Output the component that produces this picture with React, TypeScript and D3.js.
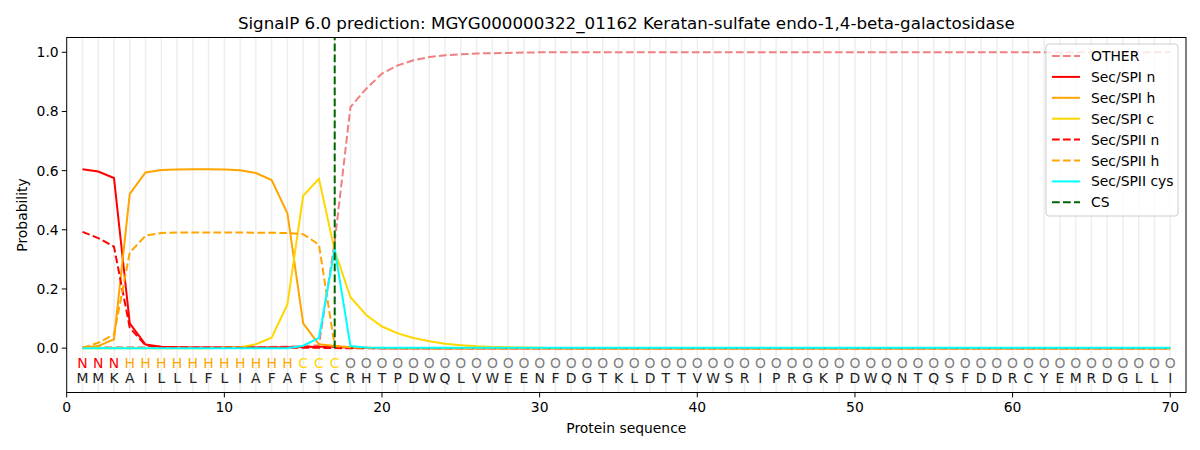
import * as d3 from "d3";

const title =
  "SignalP 6.0 prediction: MGYG000000322_01162 Keratan-sulfate endo-1,4-beta-galactosidase";

const sequence = "MMKAILLLFLIAFAFSCRHTPDWQLVWEENFDGTKLDTTVWSRIPRGKPDWQNTQSFDDRCYEMRDGLLI".split("");
const regions = "NNNHHHHHHHHHHHCCCOOOOOOOOOOOOOOOOOOOOOOOOOOOOOOOOOOOOOOOOOOOOOOOOOOOOO".split("");

const other = [
  0.003, 0.003, 0.003, 0.003, 0.003, 0.003, 0.003, 0.003, 0.003, 0.003,
  0.003, 0.004, 0.004, 0.005, 0.007, 0.01, 0.36, 0.815, 0.877, 0.928,
  0.956, 0.973, 0.984, 0.99, 0.993, 0.996, 0.997, 0.998, 0.999, 1,
  1, 1, 1, 1, 1, 1, 1, 1, 1, 1,
  1, 1, 1, 1, 1, 1, 1, 1, 1, 1,
  1, 1, 1, 1, 1, 1, 1, 1, 1, 1,
  1, 1, 1, 1, 1, 1, 1, 1, 1, 1,
];
const spiN = [
  0.605, 0.597, 0.575, 0.084, 0.012, 0.005, 0.003, 0.002, 0.002, 0.002,
  0.002, 0.002, 0.002, 0.003, 0.004, 0.005, 0.005, 0.001, 0, 0,
  0, 0, 0, 0, 0, 0, 0, 0, 0, 0,
  0, 0, 0, 0, 0, 0, 0, 0, 0, 0,
  0, 0, 0, 0, 0, 0, 0, 0, 0, 0,
  0, 0, 0, 0, 0, 0, 0, 0, 0, 0,
  0, 0, 0, 0, 0, 0, 0, 0, 0, 0,
];
const spiH = [
  0.001, 0.007, 0.03, 0.521, 0.594, 0.602, 0.604, 0.605, 0.605, 0.604,
  0.601, 0.592, 0.568, 0.456, 0.084, 0.013, 0.007, 0.003, 0.001, 0,
  0, 0, 0, 0, 0, 0, 0, 0, 0, 0,
  0, 0, 0, 0, 0, 0, 0, 0, 0, 0,
  0, 0, 0, 0, 0, 0, 0, 0, 0, 0,
  0, 0, 0, 0, 0, 0, 0, 0, 0, 0,
  0, 0, 0, 0, 0, 0, 0, 0, 0, 0,
];
const spiC = [
  0, 0, 0, 0, 0, 0, 0, 0, 0, 0.001,
  0.003, 0.013, 0.035, 0.148, 0.515, 0.572, 0.33, 0.172, 0.112, 0.073,
  0.05, 0.034, 0.023, 0.015, 0.01, 0.006, 0.004, 0.003, 0.002, 0.001,
  0, 0, 0, 0, 0, 0, 0, 0, 0, 0,
  0, 0, 0, 0, 0, 0, 0, 0, 0, 0,
  0, 0, 0, 0, 0, 0, 0, 0, 0, 0,
  0, 0, 0, 0, 0, 0, 0, 0, 0, 0,
];
const spiiN = [
  0.393, 0.372, 0.343, 0.069, 0.01, 0.003, 0.002, 0.001, 0.001, 0.001,
  0.001, 0.001, 0.001, 0.001, 0.001, 0.001, 0, 0, 0, 0,
  0, 0, 0, 0, 0, 0, 0, 0, 0, 0,
  0, 0, 0, 0, 0, 0, 0, 0, 0, 0,
  0, 0, 0, 0, 0, 0, 0, 0, 0, 0,
  0, 0, 0, 0, 0, 0, 0, 0, 0, 0,
  0, 0, 0, 0, 0, 0, 0, 0, 0, 0,
];
const spiiH = [
  0.001, 0.018, 0.046, 0.323, 0.38, 0.389, 0.391, 0.391, 0.391, 0.391,
  0.391, 0.39, 0.39, 0.389, 0.385, 0.35, 0.007, 0.002, 0.001, 0,
  0, 0, 0, 0, 0, 0, 0, 0, 0, 0,
  0, 0, 0, 0, 0, 0, 0, 0, 0, 0,
  0, 0, 0, 0, 0, 0, 0, 0, 0, 0,
  0, 0, 0, 0, 0, 0, 0, 0, 0, 0,
  0, 0, 0, 0, 0, 0, 0, 0, 0, 0,
];
const spiiCys = [
  0, 0, 0, 0, 0, 0, 0, 0, 0, 0,
  0, 0, 0, 0, 0.008, 0.035, 0.335, 0.007, 0.002, 0.001,
  0.001, 0.001, 0.001, 0.001, 0.001, 0.001, 0.001, 0.001, 0.001, 0.001,
  0.001, 0.001, 0.001, 0.001, 0.001, 0.001, 0.001, 0.001, 0.001, 0.001,
  0.001, 0.001, 0.001, 0.001, 0.001, 0.001, 0.001, 0.001, 0.001, 0.001,
  0.001, 0.001, 0.001, 0.001, 0.001, 0.001, 0.001, 0.001, 0.001, 0.001,
  0.001, 0.001, 0.001, 0.001, 0.001, 0.001, 0.001, 0.001, 0.001, 0.001,
];
const cleavageSite = 17;

const xTicks = [0, 10, 20, 30, 40, 50, 60, 70];
const yTicks = [0, 0.2, 0.4, 0.6, 0.8, 1.0];

const series = [
  { name: "OTHER", values: other, color: "#f08080", dashed: true },
  { name: "Sec/SPI n", values: spiN, color: "#ff0000", dashed: false },
  { name: "Sec/SPI h", values: spiH, color: "#ffa500", dashed: false },
  { name: "Sec/SPI c", values: spiC, color: "#ffd700", dashed: false },
  { name: "Sec/SPII n", values: spiiN, color: "#ff0000", dashed: true },
  { name: "Sec/SPII h", values: spiiH, color: "#ffa500", dashed: true },
  { name: "Sec/SPII cys", values: spiiCys, color: "#00ffff", dashed: false },
];

const regionColor: Record<string, string> = {
  N: "#ff0000",
  H: "#ffa500",
  C: "#ffd700",
  O: "#808080",
};

const W = 1200,
  H = 450;
const margin = { top: 37.5, right: 14, bottom: 57.5, left: 66.7 };
const font = "DejaVu Sans, sans-serif";
const dash = "7.7,3.3";

export default function App() {
  const x = d3.scaleLinear().domain([0, 71]).range([margin.left, W - margin.right]);
  const y = d3.scaleLinear().domain([-0.15, 1.05]).range([H - margin.bottom, margin.top]);
  const line = d3
    .line<number>()
    .x((_, i) => x(i + 1))
    .y((d) => y(d));

  const top = margin.top,
    bottom = H - margin.bottom,
    left = margin.left,
    right = W - margin.right;

  const legendX = 1046,
    legendY = 44,
    rowH = 20.9;
  const legendItems = [
    ...series.map((s) => ({ name: s.name, color: s.color, dashed: s.dashed })),
    { name: "CS", color: "#006400", dashed: true },
  ];

  return (
    <svg
      width={W}
      height={H}
      style={{ position: "absolute", left: 0, top: 0, background: "white" }}
      fontFamily={font}
    >
      {/* vertical gridlines at each residue */}
      {sequence.map((_, i) => (
        <line
          key={"g" + i}
          x1={x(i + 1)}
          x2={x(i + 1)}
          y1={top}
          y2={bottom}
          stroke="#eeeeee"
          strokeWidth={1.5}
        />
      ))}

      {series.map((s) => (
        <path
          key={s.name}
          d={line(s.values) || ""}
          fill="none"
          stroke={s.color}
          strokeWidth={2}
          strokeDasharray={s.dashed ? dash : undefined}
        />
      ))}

      {/* cleavage site */}
      <line
        x1={x(cleavageSite)}
        x2={x(cleavageSite)}
        y1={y(0)}
        y2={top}
        stroke="#006400"
        strokeWidth={2}
        strokeDasharray={dash}
      />

      {/* residue letters */}
      {sequence.map((aa, i) => (
        <g key={"l" + i}>
          <text
            x={x(i + 1)}
            y={y(-0.05)}
            textAnchor="middle"
            dominantBaseline="central"
            fontSize={13.9}
            fill={regionColor[regions[i]]}
          >
            {regions[i]}
          </text>
          <text
            x={x(i + 1)}
            y={y(-0.1)}
            textAnchor="middle"
            dominantBaseline="central"
            fontSize={13.9}
            fill="#222"
          >
            {aa}
          </text>
        </g>
      ))}

      {/* axes frame */}
      <rect x={left} y={top} width={right - left} height={bottom - top} fill="none" stroke="black" strokeWidth={1} />

      {xTicks.map((t) => (
        <g key={"xt" + t}>
          <line x1={x(t)} x2={x(t)} y1={bottom} y2={bottom + 4.9} stroke="black" />
          <text x={x(t)} y={bottom + 19} textAnchor="middle" fontSize={13.9} fill="black">
            {t}
          </text>
        </g>
      ))}
      {yTicks.map((t) => (
        <g key={"yt" + t}>
          <line x1={left} x2={left - 4.9} y1={y(t)} y2={y(t)} stroke="black" />
          <text
            x={left - 8}
            y={y(t)}
            textAnchor="end"
            dominantBaseline="central"
            fontSize={13.9}
            fill="black"
          >
            {t.toFixed(1)}
          </text>
        </g>
      ))}

      <text x={(left + right) / 2} y={433} textAnchor="middle" fontSize={13.9}>
        Protein sequence
      </text>
      <text
        transform={`translate(27,${(top + bottom) / 2}) rotate(-90)`}
        textAnchor="middle"
        fontSize={13.9}
      >
        Probability
      </text>
      <text x={(left + right) / 2} y={29} textAnchor="middle" fontSize={16.7}>
        {title}
      </text>

      {/* legend */}
      <rect
        x={legendX}
        y={legendY}
        width={132}
        height={172}
        rx={3}
        fill="white"
        fillOpacity={0.8}
        stroke="#cccccc"
      />
      {legendItems.map((it, i) => (
        <g key={"lg" + it.name}>
          <line
            x1={legendX + 6}
            x2={legendX + 34}
            y1={legendY + 12 + i * rowH}
            y2={legendY + 12 + i * rowH}
            stroke={it.color}
            strokeWidth={2}
            strokeDasharray={it.dashed ? dash : undefined}
          />
          <text
            x={legendX + 45}
            y={legendY + 12 + i * rowH}
            dominantBaseline="central"
            fontSize={13.9}
          >
            {it.name}
          </text>
        </g>
      ))}
    </svg>
  );
}
